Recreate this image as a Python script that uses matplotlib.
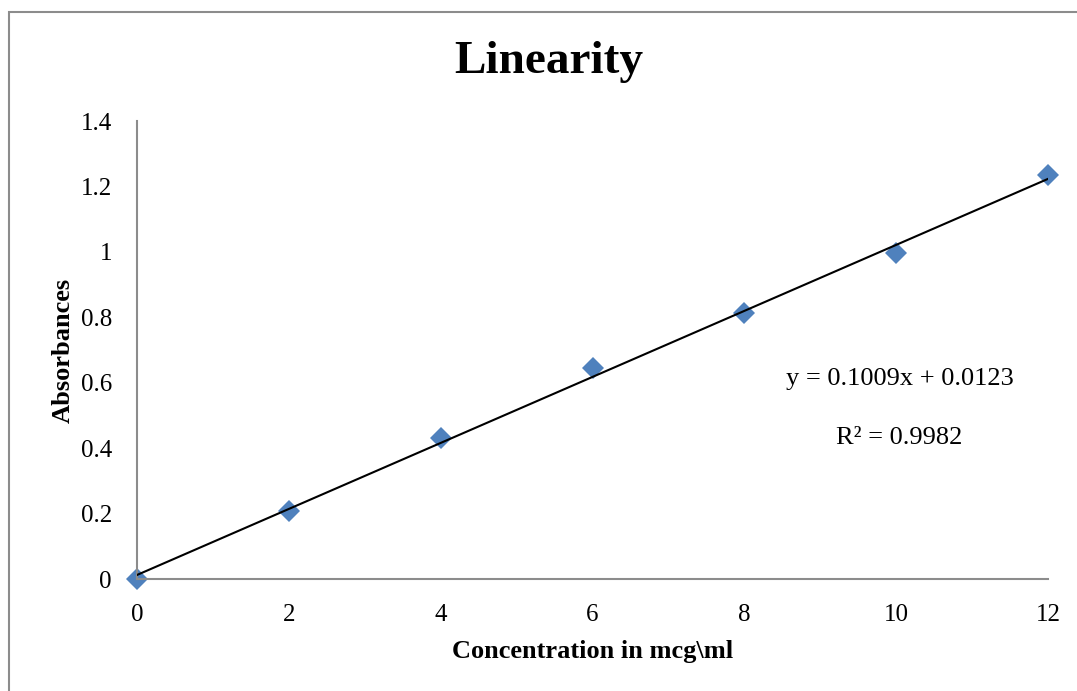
import matplotlib.pyplot as plt
from matplotlib.patches import Rectangle

# Data
conc = [0, 2, 4, 6, 8, 10, 12]
absorb = [0.0, 0.208, 0.432, 0.646, 0.812, 0.996, 1.235]
slope = 0.1009
intercept = 0.0123
r2 = 0.9982

x_ticks = [0, 2, 4, 6, 8, 10, 12]
y_ticks = [0, 0.2, 0.4, 0.6, 0.8, 1.0, 1.2, 1.4]
y_tick_labels = ['0', '0.2', '0.4', '0.6', '0.8', '1', '1.2', '1.4']

plt.rcParams['font.family'] = ['Liberation Serif', 'DejaVu Serif']

W, H = 1077, 691
fig = plt.figure(figsize=(W / 100, H / 100), dpi=100)
ax = fig.add_axes([137 / W, 1 - 579 / H, (1048 - 137) / W, (579 - 121) / H])

# outer chart border (only top/left visible in the crop)
fig.patches.append(Rectangle((9 / W, -0.1), 2, 1 - 12 / H + 0.1,
                             transform=fig.transFigure, fill=False,
                             edgecolor='#8c8c8c', linewidth=1.5))

# trendline
tx = [conc[0], conc[-1]]
ty = [intercept + slope * v for v in tx]
ax.plot(tx, ty, color='black', linewidth=1.5, zorder=3)

ax.plot(conc, absorb, linestyle='none', marker='D', markersize=11.5,
        color='#4F81BD', markeredgewidth=0, zorder=2, clip_on=False)

ax.set_xlim(0, 12)
ax.set_ylim(0, 1.4)
ax.set_xticks(x_ticks)
ax.set_yticks(y_ticks)
ax.set_yticklabels(y_tick_labels)
ax.tick_params(length=0, labelsize=18, colors='black')
ax.tick_params(axis='x', pad=18)
ax.tick_params(axis='y', pad=18)

for s in ['top', 'right']:
    ax.spines[s].set_visible(False)
for s in ['left', 'bottom']:
    ax.spines[s].set_color('#8c8c8c')
    ax.spines[s].set_linewidth(1.5)

ax.set_xlabel('Concentration in mcg\\ml', fontsize=19, fontweight='bold', labelpad=10)
ax.set_ylabel('Absorbances', fontsize=19, fontweight='bold', labelpad=4)

fig.text(549 / W, 1 - 62 / H, 'Linearity', fontsize=34, fontweight='bold',
         ha='center', va='center')

fig.text(900 / W, 1 - 379 / H, 'y = {:.4f}x + {:.4f}'.format(slope, intercept),
         fontsize=19, ha='center', va='center')
fig.text(899 / W, 1 - 438 / H, 'R² = {:.4f}'.format(r2), fontsize=19,
         ha='center', va='center')

fig.savefig('out.png', dpi=100)
